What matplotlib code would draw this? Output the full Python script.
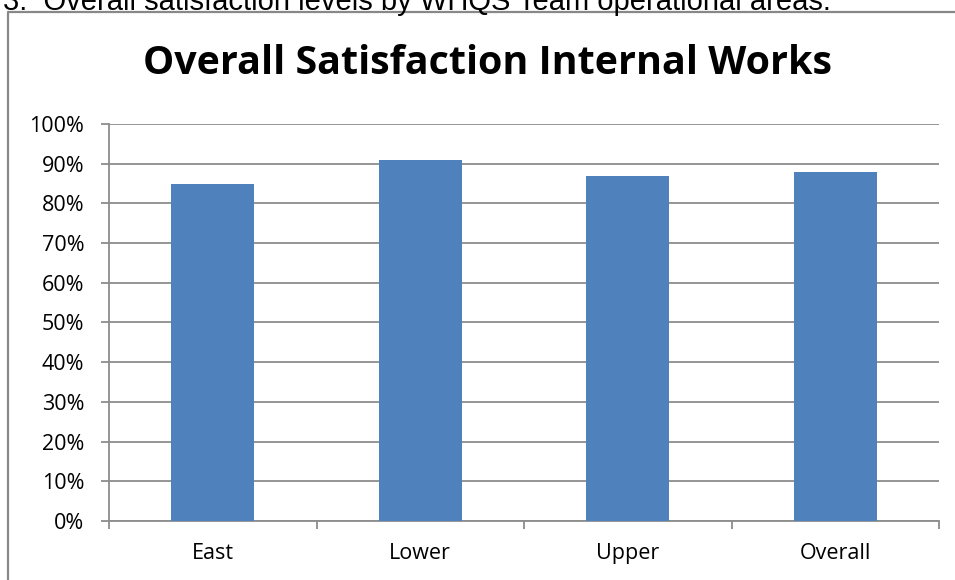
import matplotlib
matplotlib.use("Agg")
import matplotlib.pyplot as plt
from matplotlib.lines import Line2D
from matplotlib.ticker import FuncFormatter, MultipleLocator, FixedLocator

categories = ["East", "Lower", "Upper", "Overall"]
values = [0.85, 0.91, 0.87, 0.88]
title = "Overall Satisfaction Internal Works"
caption = "3.  Overall satisfaction levels by WHQS Team operational areas."

W, H = 955, 580
fig = plt.figure(figsize=(W / 100, H / 100), dpi=100)

def fx(px):
    return px / W

def fy(py):
    return (H - py) / H

ax = fig.add_axes([fx(109), fy(521), fx(939) - fx(109), fy(124) - fy(521)])
x = list(range(len(categories)))
ax.bar(x, values, width=0.4, color="#4F81BD", zorder=3)
ax.set_xlim(-0.5, len(categories) - 0.5)
ax.set_ylim(0, 1.0)
ax.yaxis.set_major_locator(MultipleLocator(0.1))
ax.yaxis.set_major_formatter(FuncFormatter(lambda v, p: f"{v*100:.0f}%"))
ax.grid(axis="y", color="#8C8C8C", linewidth=1.3, zorder=0)
ax.set_axisbelow(True)

ax.set_xticks(x)
ax.set_xticklabels(categories)
ax.xaxis.set_minor_locator(FixedLocator([i - 0.5 for i in range(len(categories) + 1)]))
ax.tick_params(axis="x", which="major", length=0, pad=16, labelsize=15.5)
ax.tick_params(axis="x", which="minor", length=5.8, color="#8C8C8C", width=1.3)
ax.tick_params(axis="y", length=5.8, color="#8C8C8C", width=1.3, labelsize=15.5, pad=12)
for lab in ax.get_xticklabels() + ax.get_yticklabels():
    lab.set_fontfamily("Open Sans")

for s in ["top", "right"]:
    ax.spines[s].set_visible(False)
for s in ["left", "bottom"]:
    ax.spines[s].set_color("#8C8C8C")
    ax.spines[s].set_linewidth(1.3)

fig.text(fx(487), fy(64), title, ha="center", va="center",
         fontsize=28.4, fontweight="bold", fontfamily="Open Sans")

fig.text(fx(3), fy(10), caption, ha="left", va="baseline",
         fontsize=21, fontfamily="Liberation Sans")

frame = Line2D([fx(8), fx(8), fx(955)], [fy(580), fy(12), fy(12)],
               transform=fig.transFigure, color="#888888", linewidth=1.6)
fig.add_artist(frame)

fig.savefig("out.png", dpi=100)
